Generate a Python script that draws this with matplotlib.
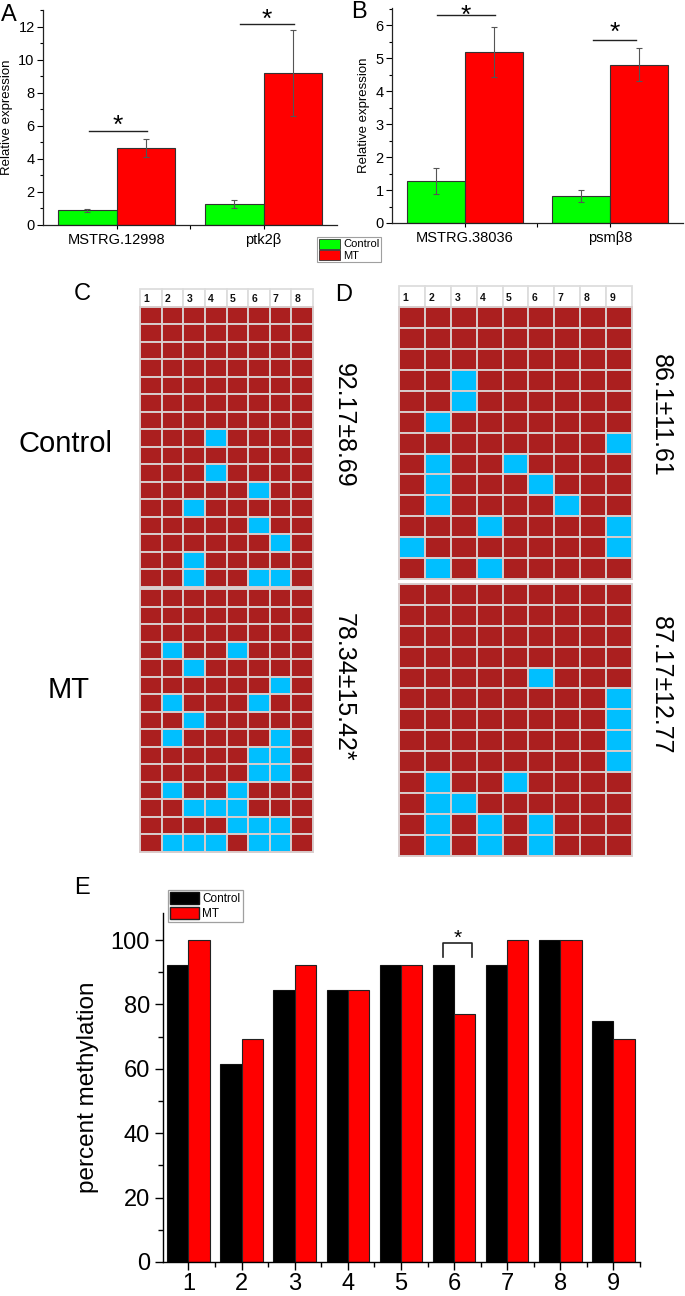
import matplotlib
matplotlib.use('Agg')
import matplotlib.pyplot as plt
from matplotlib.patches import Rectangle, Patch
from matplotlib.ticker import MultipleLocator, FixedLocator
import numpy as np

plt.rcParams['font.family'] = ['Liberation Sans', 'DejaVu Sans']

# ---------------- data ----------------
groups = ['Control', 'MT']

a_genes = ['MSTRG.12998', 'ptk2β']
a_control = [0.88, 1.27]
a_control_err = [0.10, 0.27]
a_mt = [4.68, 9.17]
a_mt_err = [0.55, 2.60]

b_genes = ['MSTRG.38036', 'psmβ8']
b_control = [1.27, 0.81]
b_control_err = [0.39, 0.18]
b_mt = [5.19, 4.80]
b_mt_err = [0.76, 0.50]

# '1' = methylated CpG (red), '0' = unmethylated (blue)
c_sites = ['1', '2', '3', '4', '5', '6', '7', '8']
c_control_rows = [
    "11111111", "11111111", "11111111", "11111111", "11111111", "11111111",
    "11111111", "11101111", "11111111", "11101111", "11111011", "11011111",
    "11111011", "11111101", "11011111", "11011001",
]
c_mt_rows = [
    "11111111", "11111111", "11111111", "10110111", "11011111", "11111101",
    "10111011", "11011111", "10111101", "11111001", "11111001", "10110111",
    "11000111", "11110001", "10001001",
]
c_control_text = "92.17±8.69"
c_mt_text = "78.34±15.42*"

d_sites = ['1', '2', '3', '4', '5', '6', '7', '8', '9']
d_control_rows = [
    "111111111", "111111111", "111111111", "110111111", "110111111",
    "101111111", "111111110", "101101111", "101110111", "101111011",
    "111011110", "011111110", "101011111",
]
d_mt_rows = [
    "111111111", "111111111", "111111111", "111111111", "111110111",
    "111111110", "111111110", "111111110", "111111110", "101101111",
    "100111111", "101010111", "101010111",
]
d_control_text = "86.1±11.61"
d_mt_text = "87.17±12.77"

e_sites = ['1', '2', '3', '4', '5', '6', '7', '8', '9']
e_control = [92.3, 61.5, 84.6, 84.6, 92.3, 92.3, 92.3, 100.0, 75.0]
e_mt = [100.0, 69.2, 92.3, 84.6, 92.3, 76.9, 100.0, 100.0, 69.2]

# ---------------- layout helpers ----------------
W, H = 685, 1296
fig = plt.figure(figsize=(W / 100, H / 100), dpi=100)


def add_ax(x0, y0, x1, y1):
    return fig.add_axes([x0 / W, 1 - y1 / H, (x1 - x0) / W, (y1 - y0) / H])


def ftext(x, y, s, **kw):
    fig.text(x / W, 1 - y / H, s, **kw)


GREEN = '#00ff00'
RED = '#ff0000'
EDGE = '#333333'


def expr_panel(ax, genes, ctrl, ctrl_err, mt, mt_err, ymax, ystep):
    x = np.arange(len(genes))
    w = 0.4
    ax.bar(x - w / 2, ctrl, w, color=GREEN, edgecolor=EDGE, linewidth=0.8, zorder=2)
    ax.bar(x + w / 2, mt, w, color=RED, edgecolor=EDGE, linewidth=0.8, zorder=2)
    ax.errorbar(x - w / 2, ctrl, yerr=ctrl_err, fmt='none', ecolor='#555555',
                elinewidth=0.8, capsize=2.5, capthick=0.8, zorder=3)
    ax.errorbar(x + w / 2, mt, yerr=mt_err, fmt='none', ecolor='#555555',
                elinewidth=0.8, capsize=2.5, capthick=0.8, zorder=3)
    ax.set_xlim(-0.5, len(genes) - 0.5)
    ax.set_ylim(0, ymax)
    ax.set_xticks(x)
    ax.set_xticklabels(genes, fontsize=10.5)
    ax.xaxis.set_minor_locator(FixedLocator([0.5]))
    ax.yaxis.set_major_locator(MultipleLocator(ystep))
    ax.yaxis.set_minor_locator(MultipleLocator(ystep / 2))
    ax.tick_params(axis='y', which='major', length=4, width=0.8, labelsize=10.5, pad=2)
    ax.tick_params(axis='y', which='minor', length=2.5, width=0.8)
    ax.tick_params(axis='x', which='major', length=3, width=0.8, pad=3)
    ax.tick_params(axis='x', which='minor', length=3, width=0.8)
    for s in ('top', 'right'):
        ax.spines[s].set_visible(False)
    for s in ('left', 'bottom'):
        ax.spines[s].set_linewidth(0.9)
        ax.spines[s].set_color('#222222')
    ax.set_ylabel('Relative expression', fontsize=9.5, labelpad=4)


def sig(ax, x0, x1, y, ystar, fs=19):
    ax.plot([x0, x1], [y, y], color='#222222', lw=1.0, clip_on=False)
    ax.text((x0 + x1) / 2, ystar, '*', ha='center', va='center', fontsize=fs,
            clip_on=False)


# ---------------- Panel A ----------------
axA = add_ax(43, 10, 337, 225)
expr_panel(axA, a_genes, a_control, a_control_err, a_mt, a_mt_err, 13.0, 2)
axA.yaxis.set_major_locator(FixedLocator([0, 2, 4, 6, 8, 10, 12]))
sig(axA, -0.19, 0.21, 5.7, 6.0)
sig(axA, 0.84, 1.21, 12.16, 12.4)

# ---------------- Panel B ----------------
axB = add_ax(392, 8, 683, 223)
expr_panel(axB, b_genes, b_control, b_control_err, b_mt, b_mt_err, 6.53, 1)
axB.yaxis.set_minor_locator(MultipleLocator(0.5))
sig(axB, -0.19, 0.21, 6.31, 6.3)
sig(axB, 0.88, 1.18, 5.55, 5.76)

# legend for A/B
handles = [Patch(facecolor=GREEN, edgecolor=EDGE, linewidth=0.6),
           Patch(facecolor=RED, edgecolor=EDGE, linewidth=0.6)]
legAB = fig.legend(handles, groups, loc='upper left',
                   bbox_to_anchor=(317 / W, 1 - 237 / H), fontsize=8,
                   frameon=True, fancybox=False, edgecolor='#888888',
                   borderpad=0.15, handlelength=1.9, handleheight=1.0,
                   handletextpad=0.3, labelspacing=0.05, borderaxespad=0)
legAB.get_frame().set_linewidth(0.8)

# ---------------- Grids C / D ----------------
CELL_RED = '#ab1f1f'
CELL_BLUE = '#00bfff'
BORDER = '#d8cccc'


def grid_panel(ax, sites, ctrl_rows, mt_rows, gap):
    ncol = len(sites)
    for j, lab in enumerate(sites):
        ax.add_patch(Rectangle((j, 0), 1, 1, facecolor='white', edgecolor='#dddddd',
                               lw=1.3, clip_on=False))
        ax.text(j + 0.14, 0.55, lab, ha='left', va='center', fontsize=7.5,
                fontweight='bold', color='#111111')
    offsets = (1, 1 + len(ctrl_rows) + gap)
    for rows, off in zip((ctrl_rows, mt_rows), offsets):
        for i, row in enumerate(rows):
            for j, ch in enumerate(row):
                ax.add_patch(Rectangle((j, off + i), 1, 1,
                                       facecolor=CELL_RED if ch == '1' else CELL_BLUE,
                                       edgecolor=BORDER, lw=1.4, clip_on=False))
    total = 1 + len(ctrl_rows) + gap + len(mt_rows)
    ax.set_xlim(0, ncol)
    ax.set_ylim(total, 0)
    ax.axis('off')


axC = add_ax(140, 289, 313, 852)
grid_panel(axC, c_sites, c_control_rows, c_mt_rows, 0.15)
axD = add_ax(399, 286, 632, 856)
grid_panel(axD, d_sites, d_control_rows, d_mt_rows, 0.22)

ftext(65, 444, groups[0], ha='center', va='center', fontsize=21)
ftext(69, 690, groups[1], ha='center', va='center', fontsize=21)
ftext(344, 425, c_control_text, ha='center', va='center', fontsize=18, rotation=-90)
ftext(344, 687, c_mt_text, ha='center', va='center', fontsize=18, rotation=-90)
ftext(661, 415, d_control_text, ha='center', va='center', fontsize=18, rotation=-90)
ftext(661, 685, d_mt_text, ha='center', va='center', fontsize=18, rotation=-90)

# ---------------- Panel E ----------------
axE = add_ax(163, 913, 640, 1262)
xe = np.arange(1, len(e_sites) + 1)
we = 0.4
axE.bar(xe - we / 2, e_control, we, color='black', edgecolor='#111111', linewidth=0.8)
axE.bar(xe + we / 2, e_mt, we, color=RED, edgecolor='#222222', linewidth=0.8)
axE.set_xlim(0.52, 9.5)
axE.set_ylim(0, 108.4)
axE.set_xticks(xe)
axE.set_xticklabels(e_sites, fontsize=17)
axE.xaxis.set_minor_locator(FixedLocator(np.arange(1.5, 9.6, 1.0)))
axE.yaxis.set_major_locator(MultipleLocator(20))
axE.yaxis.set_minor_locator(MultipleLocator(10))
axE.tick_params(axis='both', which='major', length=6, width=1.0, labelsize=17)
axE.tick_params(axis='both', which='minor', length=3.5, width=1.0)
axE.tick_params(axis='x', pad=2)
for s in ('top', 'right'):
    axE.spines[s].set_visible(False)
for s in ('left', 'bottom'):
    axE.spines[s].set_linewidth(1.0)
axE.set_ylabel('percent methylation', fontsize=17.5, labelpad=8)
# significance bracket at site 6
axE.plot([5.8, 5.8, 6.33, 6.33], [94.7, 99, 99, 94.7], color='#222222', lw=1.2,
         clip_on=False)
axE.text(6.06, 100.6, '*', ha='center', va='center', fontsize=15)

handlesE = [Patch(facecolor='black', edgecolor='#111111'),
            Patch(facecolor=RED, edgecolor='#222222')]
legE = fig.legend(handlesE, groups, loc='upper left',
                  bbox_to_anchor=(168 / W, 1 - 890 / H), fontsize=8.5,
                  frameon=True, fancybox=False, edgecolor='#888888',
                  borderpad=0.2, handlelength=2.4, handleheight=1.2,
                  handletextpad=0.3, labelspacing=0.1, borderaxespad=0)
legE.get_frame().set_linewidth(0.9)

# ---------------- panel letters ----------------
ftext(9, 15, 'A', ha='center', va='center', fontsize=17)
ftext(359, 12, 'B', ha='center', va='center', fontsize=17)
ftext(82, 294, 'C', ha='center', va='center', fontsize=17)
ftext(344, 295, 'D', ha='center', va='center', fontsize=17)
ftext(82, 888, 'E', ha='center', va='center', fontsize=17)

fig.savefig('out.png', dpi=100)
